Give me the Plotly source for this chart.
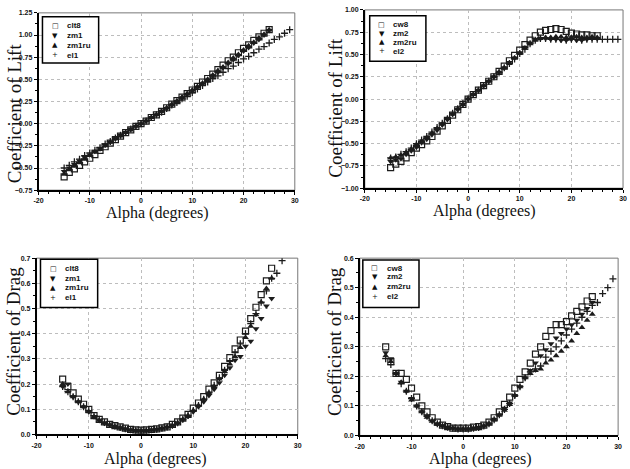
import plotly.graph_objects as go

# ---------------- data ----------------
alpha_a = list(range(-15, 26))   # -15 .. 25
alpha_b = list(range(-15, 30))   # -15 .. 29
alpha_c = list(range(-15, 28))   # -15 .. 27

# Panel 1: lift, set 1
clt8_cl = [-0.60, -0.55, -0.51, -0.47, -0.43, -0.39, -0.35, -0.30, -0.26, -0.22,
           -0.18, -0.14, -0.10, -0.07, -0.03, 0.00, 0.03, 0.07, 0.10, 0.14,
           0.18, 0.22, 0.26, 0.30, 0.34, 0.38, 0.42, 0.47, 0.51, 0.56,
           0.61, 0.66, 0.71, 0.75, 0.80, 0.85, 0.89, 0.94, 0.98, 1.02, 1.06]
zm1_cl = [-0.54, -0.50, -0.46, -0.42, -0.38, -0.35, -0.31, -0.28, -0.24, -0.21,
          -0.17, -0.13, -0.10, -0.06, -0.03, 0.00, 0.03, 0.07, 0.10, 0.14,
          0.17, 0.21, 0.25, 0.29, 0.33, 0.37, 0.41, 0.45, 0.49, 0.54,
          0.58, 0.63, 0.68, 0.72, 0.77, 0.82, 0.86, 0.91, 0.95, 1.00, 1.05]
zm1ru_cl = [-0.57, -0.52, -0.48, -0.44, -0.40, -0.36, -0.32, -0.29, -0.25, -0.21,
            -0.17, -0.14, -0.10, -0.07, -0.03, 0.00, 0.03, 0.07, 0.10, 0.14,
            0.18, 0.22, 0.26, 0.30, 0.34, 0.38, 0.42, 0.46, 0.50, 0.55,
            0.60, 0.64, 0.69, 0.74, 0.78, 0.83, 0.88, 0.92, 0.97, 1.01, 1.06]
el1_cl = [-0.50, -0.47, -0.43, -0.40, -0.36, -0.33, -0.30, -0.27, -0.23, -0.20,
          -0.16, -0.13, -0.10, -0.06, -0.03, 0.00, 0.03, 0.07, 0.10, 0.13,
          0.17, 0.21, 0.24, 0.28, 0.31, 0.35, 0.39, 0.43, 0.47, 0.51,
          0.54, 0.58, 0.62, 0.65, 0.69, 0.73, 0.76, 0.80, 0.84, 0.87,
          0.91, 0.95, 0.98, 1.02, 1.06]

# Panel 2: lift, set 2
cw8_cl = [-0.77, -0.73, -0.70, -0.66, -0.60, -0.55, -0.51, -0.47, -0.42, -0.36,
          -0.30, -0.24, -0.18, -0.12, -0.06, 0.00, 0.05, 0.10, 0.15, 0.20,
          0.25, 0.31, 0.37, 0.43, 0.49, 0.55, 0.61, 0.66, 0.71, 0.75,
          0.77, 0.78, 0.79, 0.78, 0.76, 0.74, 0.73, 0.72, 0.72, 0.71, 0.71]
zm2_cl = [-0.70, -0.68, -0.67, -0.62, -0.58, -0.54, -0.49, -0.45, -0.40, -0.35,
          -0.29, -0.23, -0.17, -0.12, -0.06, 0.00, 0.05, 0.10, 0.15, 0.20,
          0.25, 0.30, 0.35, 0.41, 0.46, 0.52, 0.58, 0.63, 0.67, 0.68,
          0.68, 0.67, 0.67, 0.66, 0.66, 0.67, 0.66, 0.66, 0.67, 0.68, 0.68]
zm2ru_cl = [-0.66, -0.65, -0.63, -0.60, -0.56, -0.51, -0.47, -0.43, -0.38, -0.33,
            -0.28, -0.22, -0.17, -0.11, -0.06, 0.00, 0.05, 0.10, 0.15, 0.20,
            0.25, 0.30, 0.35, 0.40, 0.46, 0.51, 0.57, 0.62, 0.66, 0.68,
            0.69, 0.69, 0.70, 0.70, 0.69, 0.69, 0.70, 0.69, 0.69, 0.70, 0.69]
el2_cl = [-0.66, -0.65, -0.62, -0.59, -0.55, -0.50, -0.46, -0.42, -0.37, -0.32,
          -0.27, -0.22, -0.16, -0.11, -0.05, 0.00, 0.05, 0.10, 0.15, 0.20,
          0.25, 0.30, 0.35, 0.40, 0.45, 0.51, 0.56, 0.62, 0.66, 0.68,
          0.68, 0.67, 0.67, 0.67, 0.66, 0.67, 0.67, 0.66, 0.67, 0.67,
          0.67, 0.67, 0.67, 0.67, 0.67]

# Panel 3: drag, set 1
clt8_cd = [0.22, 0.19, 0.165, 0.14, 0.12, 0.10, 0.075, 0.06, 0.05, 0.04,
           0.035, 0.03, 0.025, 0.02, 0.018, 0.017, 0.018, 0.02, 0.022, 0.026,
           0.03, 0.04, 0.05, 0.065, 0.08, 0.105, 0.125, 0.15, 0.18, 0.205,
           0.235, 0.27, 0.305, 0.34, 0.375, 0.41, 0.46, 0.505, 0.555, 0.61, 0.66]
zm1_cd = [0.19, 0.20, 0.15, 0.13, 0.11, 0.09, 0.07, 0.055, 0.045, 0.038,
          0.032, 0.027, 0.022, 0.018, 0.016, 0.015, 0.016, 0.018, 0.02, 0.024,
          0.028, 0.035, 0.045, 0.058, 0.072, 0.09, 0.11, 0.13, 0.155, 0.18,
          0.205, 0.235, 0.265, 0.295, 0.31, 0.35, 0.37, 0.42, 0.46, 0.51, 0.54]
zm1ru_cd = [0.20, 0.17, 0.15, 0.13, 0.11, 0.09, 0.07, 0.056, 0.046, 0.038,
            0.032, 0.027, 0.022, 0.018, 0.016, 0.015, 0.016, 0.018, 0.021, 0.025,
            0.03, 0.037, 0.047, 0.06, 0.075, 0.095, 0.115, 0.14, 0.165, 0.19,
            0.22, 0.25, 0.28, 0.31, 0.345, 0.385, 0.43, 0.475, 0.525, 0.58, 0.62]
el1_cd = [0.19, 0.17, 0.15, 0.13, 0.11, 0.095, 0.075, 0.06, 0.048, 0.04,
          0.034, 0.028, 0.023, 0.019, 0.017, 0.016, 0.017, 0.019, 0.021, 0.025,
          0.03, 0.037, 0.047, 0.06, 0.075, 0.095, 0.115, 0.14, 0.165, 0.195,
          0.225, 0.255, 0.29, 0.325, 0.36, 0.40, 0.44, 0.48, 0.525, 0.57,
          0.62, 0.64, 0.69]

# Panel 4: drag, set 2
cw8_cd = [0.30, 0.25, 0.21, 0.21, 0.19, 0.16, 0.13, 0.10, 0.08, 0.06,
          0.045, 0.035, 0.03, 0.025, 0.025, 0.025, 0.025, 0.028, 0.03, 0.035,
          0.045, 0.06, 0.08, 0.105, 0.13, 0.16, 0.19, 0.215, 0.245, 0.275,
          0.30, 0.335, 0.355, 0.375, 0.375, 0.385, 0.405, 0.42, 0.435, 0.455, 0.47]
zm2_cd = [0.28, 0.26, 0.21, 0.18, 0.15, 0.125, 0.10, 0.08, 0.065, 0.05,
          0.04, 0.033, 0.028, 0.024, 0.022, 0.022, 0.022, 0.024, 0.027, 0.032,
          0.04, 0.055, 0.07, 0.09, 0.11, 0.135, 0.165, 0.195, 0.22, 0.245,
          0.27, 0.29, 0.31, 0.33, 0.345, 0.36, 0.375, 0.39, 0.41, 0.43, 0.45]
zm2ru_cd = [0.27, 0.25, 0.21, 0.18, 0.15, 0.12, 0.10, 0.08, 0.062, 0.048,
            0.038, 0.032, 0.027, 0.024, 0.022, 0.022, 0.022, 0.024, 0.027, 0.032,
            0.04, 0.052, 0.068, 0.085, 0.105, 0.135, 0.165, 0.195, 0.21, 0.22,
            0.225, 0.245, 0.255, 0.27, 0.285, 0.30, 0.32, 0.345, 0.365, 0.39, 0.41]
el2_cd = [0.26, 0.24, 0.21, 0.175, 0.15, 0.125, 0.10, 0.08, 0.065, 0.05,
          0.04, 0.033, 0.028, 0.024, 0.022, 0.022, 0.022, 0.024, 0.027, 0.032,
          0.04, 0.053, 0.07, 0.088, 0.108, 0.135, 0.165, 0.195, 0.215, 0.225,
          0.235, 0.265, 0.285, 0.30, 0.32, 0.34, 0.36, 0.38, 0.40, 0.42,
          0.44, 0.45, 0.48, 0.50, 0.53]

x_ticks = [-20, -10, 0, 10, 20, 30]
x_title = "Alpha (degrees)"
lift_title = "Coefficient of Lift"
drag_title = "Coefficient of Drag"

# ---------------- figure ----------------
W, H = 630, 469
INK = "#1c1c1c"
fig = go.Figure()

def fx(p):
    return p / W

def fy(p):
    return 1 - p / H

marker_styles = [
    dict(symbol="square-open", size=6, color=INK, line=dict(width=1.2, color=INK)),
    dict(symbol="triangle-down", size=6, color=INK, line=dict(width=0, color=INK)),
    dict(symbol="triangle-up", size=6, color=INK, line=dict(width=0, color=INK)),
    dict(symbol="cross-thin", size=5, color=INK, line=dict(width=1.3, color=INK)),
]
legend_glyphs = ["\u25a1", "\u25bc", "\u25b2", "+"]

panels = [
    dict(x=(34, 294), y=(9, 189), yr=(-0.75, 1.25), dt=0.25, fmt=".2f",
         names=["clt8", "zm1", "zm1ru", "el1"],
         series=[(alpha_a, clt8_cl), (alpha_a, zm1_cl), (alpha_a, zm1ru_cl), (alpha_b, el1_cl)],
         ytitle=lift_title, yt_pos=(9, 111), xt_pos=(155, 212),
         leg=(38, 13, 95, 60), leg_sym_x=51, leg_txt_x=61, leg_rows=[22, 32, 42, 52]),
    dict(x=(365, 627), y=(6, 187), yr=(-1.0, 1.0), dt=0.25, fmt=".2f",
         names=["cw8", "zm2", "zm2ru", "el2"],
         series=[(alpha_a, cw8_cl), (alpha_a, zm2_cl), (alpha_a, zm2ru_cl), (alpha_b, el2_cl)],
         ytitle=lift_title, yt_pos=(335, 105), xt_pos=(486, 210),
         leg=(370, 12, 427, 58), leg_sym_x=382, leg_txt_x=392, leg_rows=[21, 30, 39, 48]),
    dict(x=(32, 297), y=(258, 437), yr=(0.0, 0.7), dt=0.1, fmt=".1f",
         names=["clt8", "zm1", "zm1ru", "el1"],
         series=[(alpha_a, clt8_cd), (alpha_a, zm1_cd), (alpha_a, zm1ru_cd), (alpha_c, el1_cd)],
         ytitle=drag_title, yt_pos=(9, 342), xt_pos=(153, 462),
         leg=(36, 259, 94, 308), leg_sym_x=49, leg_txt_x=59, leg_rows=[269, 279, 288, 298]),
    dict(x=(360, 622), y=(258, 438), yr=(0.0, 0.6), dt=0.1, fmt=".1f",
         names=["cw8", "zm2", "zm2ru", "el2"],
         series=[(alpha_a, cw8_cd), (alpha_a, zm2_cd), (alpha_a, zm2ru_cd), (alpha_b, el2_cd)],
         ytitle=drag_title, yt_pos=(335, 343), xt_pos=(482, 462),
         leg=(363, 260, 420, 308), leg_sym_x=375, leg_txt_x=385, leg_rows=[268, 277, 287, 297]),
]

tickfont = dict(family="Liberation Sans", size=7, color="#111", weight="bold")
serif = "Liberation Serif"

for i, p in enumerate(panels, start=1):
    xa = "x" if i == 1 else f"x{i}"
    ya = "y" if i == 1 else f"y{i}"
    for (xs, ys), name, ms in zip(p["series"], p["names"], marker_styles):
        fig.add_trace(go.Scatter(x=xs, y=ys, mode="markers", name=name,
                                 marker=ms, xaxis=xa, yaxis=ya, showlegend=False))
    axis_common = dict(showgrid=True, gridcolor="#bdbdbd", griddash="dot", gridwidth=1,
                       showline=True, linecolor="#000", linewidth=1.5, zeroline=False,
                       ticks="outside", ticklen=3, tickcolor="#000", tickwidth=1,
                       tickfont=tickfont)
    fig.layout[f"xaxis{'' if i == 1 else i}"] = dict(
        domain=[fx(p["x"][0]), fx(p["x"][1])], anchor=ya, range=[-20, 30],
        tickvals=x_ticks, ticktext=[str(v) for v in x_ticks],
        minor=dict(dtick=2, ticklen=2, ticks="outside", tickcolor="#000", showgrid=False),
        **axis_common)
    fig.layout[f"yaxis{'' if i == 1 else i}"] = dict(
        domain=[fy(p["y"][1]), fy(p["y"][0])], anchor=xa, range=list(p["yr"]),
        dtick=p["dt"], tick0=0, tickformat=p["fmt"],
        minor=dict(dtick=p["dt"] / 2, ticklen=2, ticks="outside", tickcolor="#000", showgrid=False),
        **axis_common)
    # lighter top/right frame
    fig.add_shape(type="rect", xref=f"{xa} domain", yref=f"{ya} domain",
                  x0=0, x1=1, y0=0, y1=1, line=dict(color="#777", width=1), layer="below")
    # axis titles
    fig.add_annotation(text=p["ytitle"], xref="paper", yref="paper",
                       x=fx(p["yt_pos"][0]), y=fy(p["yt_pos"][1]), textangle=-90,
                       showarrow=False, xanchor="center", yanchor="middle",
                       font=dict(family=serif, size=19, color="#111"))
    fig.add_annotation(text=x_title, xref="paper", yref="paper",
                       x=fx(p["xt_pos"][0]), y=fy(p["xt_pos"][1]),
                       showarrow=False, xanchor="center", yanchor="middle",
                       font=dict(family=serif, size=16, color="#111"))
    # legend box
    l, t, r, b = p["leg"]
    fig.add_shape(type="rect", xref="paper", yref="paper",
                  x0=fx(l), x1=fx(r), y0=fy(b), y1=fy(t),
                  line=dict(color="#000", width=1.5), fillcolor="white")
    for glyph, name, ry in zip(legend_glyphs, p["names"], p["leg_rows"]):
        fig.add_annotation(text=glyph, xref="paper", yref="paper",
                           x=fx(p["leg_sym_x"]), y=fy(ry), showarrow=False,
                           xanchor="center", yanchor="middle",
                           font=dict(family="DejaVu Sans", size=7, color="#111"))
        fig.add_annotation(text=name, xref="paper", yref="paper",
                           x=fx(p["leg_txt_x"]), y=fy(ry), showarrow=False,
                           xanchor="left", yanchor="middle",
                           font=dict(family="Liberation Sans", size=8, color="#111", weight="bold"))

fig.update_layout(width=W, height=H, margin=dict(l=0, r=0, t=0, b=0),
                  paper_bgcolor="white", plot_bgcolor="white", showlegend=False)

fig.write_html("out.html")
